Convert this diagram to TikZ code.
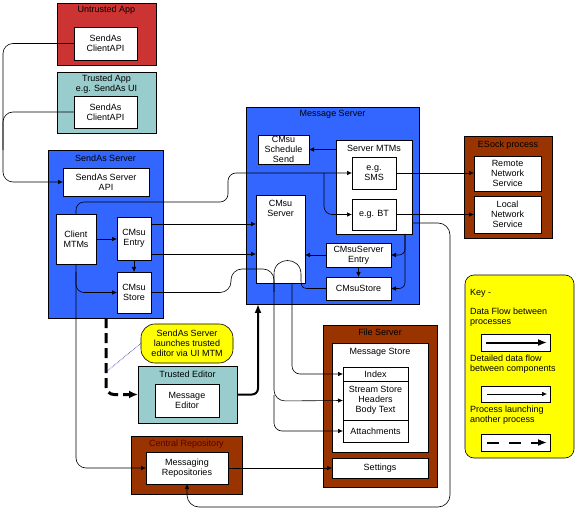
\documentclass[tikz,border=0pt]{standalone}
\usepackage{fontspec}
\setmainfont{Liberation Sans}
\usetikzlibrary{arrows.meta,calc}
\definecolor{appred}{RGB}{204,51,51}
\definecolor{appteal}{RGB}{153,204,204}
\definecolor{srvblue}{RGB}{51,102,255}
\definecolor{procbrown}{RGB}{153,51,0}
\definecolor{keyyellow}{RGB}{255,255,0}
\definecolor{dotblue}{RGB}{0,0,153}
\definecolor{repotext}{RGB}{90,0,0}
\newcommand{\mkbox}[7]{\node[#1, minimum width={(#5-#3)*1pt}, minimum height={(#6-#4)*1pt}] (#2) at ({(#3+#5)/2},{(#4+#6)/2}) {#7};}
\begin{document}
\begin{tikzpicture}[x=1pt,y=-1pt,
  base/.style={draw=black, line width=0.6pt, inner sep=0.3pt, outer sep=0pt, align=center, font=\fontsize{9}{10}\selectfont},
  redbox/.style={base, fill=appred},
  tealbox/.style={base, fill=appteal},
  bluebox/.style={base, fill=srvblue},
  brownbox/.style={base, fill=procbrown},
  whitebox/.style={base, fill=white},
  calloutbox/.style={base, fill=keyyellow, rounded corners=14pt},
  keypanel/.style={base, fill=keyyellow, rounded corners=9pt},
  lbl/.style={inner sep=0pt, align=center, font=\fontsize{9}{10}\selectfont},
  keytext/.style={inner sep=0pt, anchor=west, align=left, font=\fontsize{9}{10}\selectfont},
  line/.style={draw, line width=0.6pt},
  flow/.style={line, -{Latex[length=5pt,width=4.5pt]}},
  thickflow/.style={draw, line width=2pt, -{Latex[length=9pt,width=7pt]}},
  dashflow/.style={draw, line width=3pt, dash pattern=on 10pt off 5pt, -{Latex[length=9pt,width=8pt]}},
  keydash/.style={draw, line width=2pt, dash pattern=on 12pt off 10pt, -{Latex[length=9pt,width=7pt]}},
  calloutline/.style={draw=dotblue, line width=0.6pt, densely dotted}
]
\fill[white] (0,0) rectangle (575,518);
\useasboundingbox (0,0) rectangle (575,518);

% Untrusted / trusted apps
\mkbox{redbox}{untrusted}{57}{3}{156}{65}{}
\node[lbl] (untrustedT) at (106.5,10.5) {Untrusted App};
\mkbox{whitebox}{untrustedApi}{74}{27}{137}{60}{SendAs\\ClientAPI}
\mkbox{tealbox}{trusted}{57}{72}{156}{133}{}
\node[lbl] (trustedT) at (106.5,84.5) {Trusted App\\e.g. SendAs UI};
\mkbox{whitebox}{trustedApi}{74}{96}{137}{128}{SendAs\\ClientAPI}

% SendAs server
\mkbox{bluebox}{sendas}{48}{150}{163}{318}{}
\node[lbl] (sendasT) at (105.5,158) {SendAs Server};
\mkbox{whitebox}{sasApi}{63}{168}{149}{196}{SendAs Server\\API}
\mkbox{whitebox}{clientMtms}{56}{214}{96}{264}{Client\\MTMs}
\mkbox{whitebox}{cmsuEntry}{117}{217}{151}{260}{CMsu\\Entry}
\mkbox{whitebox}{cmsuStore}{117}{272}{151}{313}{CMsu\\Store}

% Message server
\mkbox{bluebox}{msgServer}{246}{107}{419}{304}{}
\node[lbl] (msgServerT) at (332.5,114) {Message Server};
\mkbox{whitebox}{schedSend}{258}{135}{309}{164}{CMsu\\Schedule\\Send}
\mkbox{whitebox}{serverMtms}{336}{140}{412}{234}{}
\node[lbl] (serverMtmsT) at (374,148) {Server MTMs};
\mkbox{whitebox}{sms}{352}{157}{396}{189}{e.g.\\SMS}
\mkbox{whitebox}{bt}{352}{199}{396}{230}{e.g. BT}
\mkbox{whitebox}{cmsuServer}{256}{195}{305}{283}{}
\node[lbl] (cmsuServerT) at (280.5,208) {CMsu\\Server};
\mkbox{whitebox}{srvEntry}{326}{243}{391}{267}{CMsuServer\\Entry}
\mkbox{whitebox}{srvStore}{326}{277}{391}{300}{CMsuStore}

% ESock
\mkbox{brownbox}{esock}{464}{136}{552}{238}{}
\node[lbl] (esockT) at (508,145.5) {ESock process};
\mkbox{whitebox}{remote}{474}{156}{541}{191}{Remote\\Network\\Service}
\mkbox{whitebox}{local}{474}{196}{541}{233}{Local\\Network\\Service}

% File server
\mkbox{brownbox}{fileServer}{323}{325}{437}{487}{}
\node[lbl] (fileServerT) at (380,332.5) {File Server};
\mkbox{whitebox}{msgStore}{332}{343}{428}{452}{}
\node[lbl] (msgStoreT) at (380,352.5) {Message Store};
\mkbox{whitebox}{index}{343}{367}{408}{381}{Index}
\mkbox{whitebox}{stream}{343}{381}{408}{420}{Stream Store\\Headers\\Body Text}
\mkbox{whitebox}{attach}{343}{420}{408}{442}{Attachments}
\mkbox{whitebox}{settings}{332}{458}{428}{478}{Settings}

% Callout, trusted editor, central repository
\mkbox{calloutbox}{callout}{141}{324}{233}{363}{SendAs Server\\launches trusted\\editor via UI MTM}
\mkbox{tealbox}{editorBox}{138}{366}{237}{423}{}
\node[lbl] (editorT) at (187.5,374.5) {Trusted Editor};
\mkbox{whitebox}{msgEditor}{155}{384}{219}{417}{Message\\Editor}
\mkbox{brownbox}{centralRepo}{131}{436}{242}{494}{}
\node[lbl, text=repotext] (centralRepoT) at (186.5,444.5) {Central Repository};
\mkbox{whitebox}{repos}{146}{452}{228}{484}{Messaging\\Repositories}

% Key
\mkbox{keypanel}{key}{465}{275}{574}{458}{}
\node[keytext] (keyT) at (470,293) {Key -};
\node[keytext] (keyT1) at (470,317) {Data Flow between\\processes};
\mkbox{whitebox}{keybox1}{481}{334}{550}{351}{}
\node[keytext] (keyT2) at (470,364.5) {Detailed data flow\\between components};
\mkbox{whitebox}{keybox2}{481}{386}{550}{402}{}
\node[keytext] (keyT3) at (470,415) {Process launching\\another process};
\mkbox{whitebox}{keybox3}{481}{434}{550}{451}{}
\draw[thickflow] ($(keybox1.west)+(5,0)$) -- ($(keybox1.east)+(-3,0)$);
\draw[flow] ($(keybox2.west)+(6,0)$) -- ($(keybox2.east)+(-3,0)$);
\draw[keydash] ($(keybox3.west)+(6,0)$) -- ($(keybox3.east)+(-3,0)$);

% Connectors
\coordinate (lrail) at (3,182);
\coordinate (lrailmid) at (3,150);
\draw[flow, rounded corners=10pt] (untrustedApi.west) -| (lrail) -- (sasApi.west);
\draw[line, rounded corners=10pt] (trustedApi.west) -| (lrailmid);

\draw[flow, rounded corners=8pt] (clientMtms.north) |- (228,202) -- (228,173) -- (sms.west);
\coordinate (smsj) at (324,173);
\draw[flow, rounded corners=8pt] (smsj) |- (bt.west);

\draw[flow] (clientMtms.east) -- (clientMtms.east -| cmsuEntry.west);
\draw[flow] (cmsuEntry.south) -- (cmsuStore.north);
\draw[flow, rounded corners=10pt] (clientMtms.south) |- (repos.west);
\coordinate (cmj) at (76,272);
\draw[flow, rounded corners=8pt] (cmj) |- (cmsuStore.west);

\coordinate (ce1) at ($(cmsuEntry.north east)+(0,7)$);
\coordinate (ce2) at ($(cmsuEntry.north east)+(0,37)$);
\draw[flow] (ce1) -- (ce1 -| cmsuServer.west);
\draw[flow] (ce2) -- (ce2 -| cmsuServer.west);

\draw[flow, rounded corners=11pt] (cmsuStore.east) -- (231,292.5) -- (231,269) -- (274,269) -- (274,401) -- (stream.west);
\coordinate (stj) at (274,395);
\draw[flow, rounded corners=8pt] (stj) |- (attach.west);

\coordinate (archEnd) at (274,292);
\draw[line] (srvStore.west) -- (307,288.5) .. controls (301,288.5) and (301,284) .. (301,280) -- (301,274) .. controls (301,256) and (274,256) .. (274,274) -- (archEnd);

\coordinate (ix0) at ($(cmsuServer.south)+(11.5,0)$);
\draw[flow, rounded corners=8pt] (ix0) |- (index.west);

\draw[flow] (srvEntry.south) -- (srvStore.north);
\draw[flow] (srvEntry.west) -- (srvEntry.west -| cmsuServer.east);
\draw[flow] (serverMtms.west |- schedSend.east) -- (schedSend.east);
\coordinate (smb) at ($(serverMtms.south east)+(-7,0)$);
\draw[flow, rounded corners=6pt] (smb) |- (srvEntry.east);
\draw[flow, rounded corners=6pt] (smb) |- (srvStore.east);
\draw[flow] (sms.east) -- (sms.east -| remote.west);
\draw[flow] (bt.east) -- (bt.east -| local.west);
\coordinate (smr) at ($(serverMtms.south east)+(0,-11)$);
\draw[flow, rounded corners=12pt] (smr) -- (450,223) -- (450,507) -- (187,507) -- (repos.south);
\draw[flow] (repos.east) -- (settings.west);

\coordinate (msb) at ($(msgServer.south west)+(12,0)$);
\draw[thickflow, rounded corners=6pt] (editorBox.east) -| (msb);
\coordinate (sdb) at ($(sendas.south)+(0.5,0)$);
\draw[dashflow, rounded corners=8pt] (sdb) |- (editorBox.west);
\coordinate (cdj) at (106,372);
\draw[calloutline] (callout.west) -- (cdj);
\end{tikzpicture}
\end{document}
